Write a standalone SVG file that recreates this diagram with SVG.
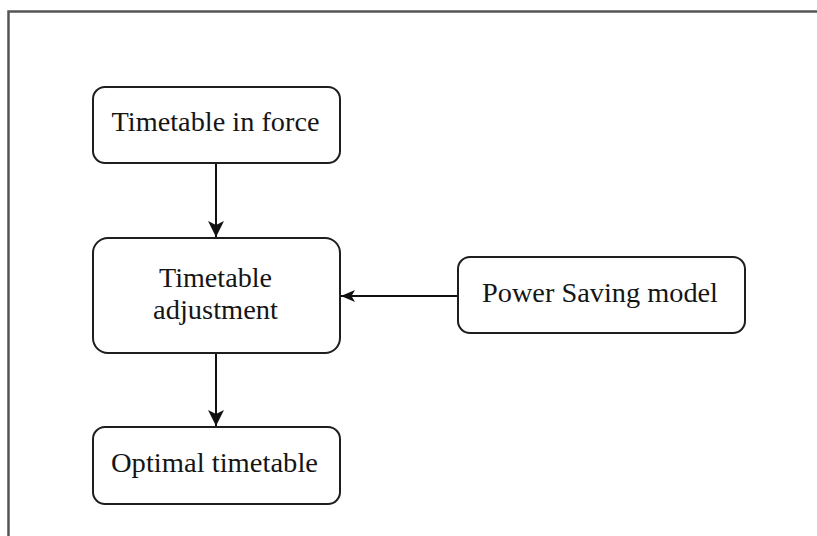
<svg xmlns="http://www.w3.org/2000/svg" width="817" height="536" viewBox="0 0 817 536">
<defs>
<style>
.box{fill:#fff;stroke:#1e1e1e;stroke-width:2}
.lbl{font-family:"Liberation Serif","Times New Roman",serif;font-size:27px;fill:#151515;text-anchor:middle}
.conn{stroke:#111;stroke-width:2;fill:none}
</style>
<marker id="ah" markerUnits="userSpaceOnUse" markerWidth="20" markerHeight="20" refX="16" refY="9" orient="auto">
<path d="M0,1 L16,9 L0,17 L4,9 Z" fill="#111"/>
</marker>
<marker id="ah2" markerUnits="userSpaceOnUse" markerWidth="18" markerHeight="18" refX="14" refY="7" orient="auto">
<path d="M0,1 L14,7 L0,13 L3.5,7 Z" fill="#111"/>
</marker>
</defs>
<rect width="817" height="536" fill="#fff"/>
<path d="M8.5,536 V11.5 H817" fill="none" stroke="#555" stroke-width="2.5"/>
<g id="connectors">
<line class="conn" x1="216" y1="163" x2="216" y2="237" marker-end="url(#ah)"/>
<line class="conn" x1="216" y1="353" x2="216" y2="426" marker-end="url(#ah)"/>
<line class="conn" x1="458" y1="296" x2="341" y2="296" marker-end="url(#ah2)"/>
</g>
<g id="n1">
<rect class="box" x="93" y="87" width="247" height="76" rx="12"/>
<text class="lbl" x="215.5" y="131" textLength="208" lengthAdjust="spacingAndGlyphs">Timetable in force</text>
</g>
<g id="n2">
<rect class="box" x="93" y="238" width="247" height="115" rx="15"/>
<text class="lbl" x="215.5" y="287" textLength="113" lengthAdjust="spacingAndGlyphs">Timetable</text>
<text class="lbl" x="215.5" y="319" textLength="125" lengthAdjust="spacingAndGlyphs">adjustment</text>
</g>
<g id="n3">
<rect class="box" x="93" y="427" width="247" height="77" rx="12"/>
<text class="lbl" x="214.5" y="472" textLength="207" lengthAdjust="spacingAndGlyphs">Optimal timetable</text>
</g>
<g id="n4">
<rect class="box" x="458" y="257" width="287" height="76" rx="12"/>
<text class="lbl" x="600" y="302" textLength="236" lengthAdjust="spacingAndGlyphs">Power Saving model</text>
</g>
</svg>
